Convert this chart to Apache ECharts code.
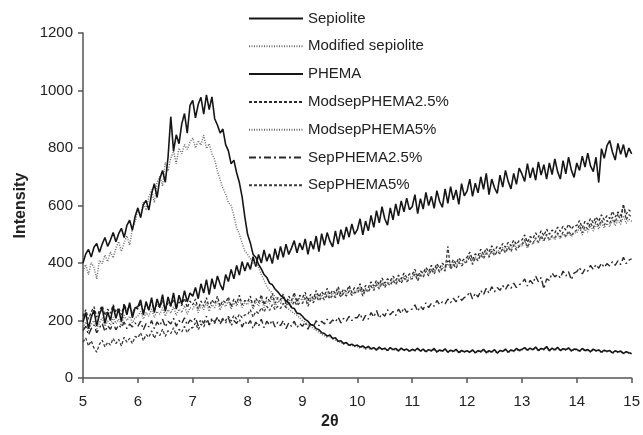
<!DOCTYPE html>
<html>
<head>
<meta charset="utf-8">
<script src="https://cdn.jsdelivr.net/npm/echarts@6/dist/echarts.min.js"></script>
<style>
html,body{margin:0;padding:0;background:#fff;}
#chart{width:643px;height:435px;}
</style>
</head>
<body>
<div id="chart"></div>
<script>
// sampling grid of the diffractograms (2θ from 5 to 15, step 0.05)
const thetaStart = 5;
const thetaStep = 0.05;

const seriesNames = ["Sepiolite", "Modified sepiolite", "PHEMA", "ModsepPHEMA2.5%", "ModsepPHEMA5%", "SepPHEMA2.5%", "SepPHEMA5%"];
const xTicks = [5, 6, 7, 8, 9, 10, 11, 12, 13, 14, 15];
const yTicks = [0, 200, 400, 600, 800, 1000, 1200];

const sepiolite = [
400,432,447,421,455,468,438,466,489,458,480,506,474,502,521,489,531,549,514,562,
592,558,603,618,584,641,676,628,693,722,681,768,909,790,846,815,884,920,852,948,
966,905,952,976,918,985,934,978,902,880,852,866,812,790,745,758,714,680,630,560,
500,470,430,420,395,380,360,350,330,325,310,300,288,280,268,262,245,242,226,224,
215,204,198,186,184,172,168,158,155,146,150,138,140,128,130,120,124,114,118,112,
115,108,112,104,110,102,106,98,108,100,104,96,106,99,103,95,104,97,101,94,
100,96,104,94,101,92,99,95,103,91,98,94,102,90,97,93,100,89,96,92,
95,90,98,88,96,92,100,89,95,91,99,87,96,93,101,90,98,94,103,96,
100,106,97,104,99,108,96,103,100,110,95,104,98,107,96,102,99,105,95,101,
100,94,103,96,99,92,101,95,98,90,97,93,96,88,95,91,94,86,92,88,
85];

const modifiedSepiolite = [
372,395,360,402,385,345,410,398,428,405,440,418,452,475,440,470,495,462,520,540,
590,560,612,584,630,655,610,680,702,668,750,720,765,790,745,800,780,812,795,820,
835,800,826,810,845,798,815,780,760,720,690,660,640,610,600,565,522,500,470,442,
430,415,400,398,385,360,340,318,305,296,283,275,262,255,246,240,232,225,218,210,
200,194,186,180,172,165,160,152,148,142,145,136,132,125,126,118,120,112,115,110,
110,104,108,100,106,98,103,96,105,99,101,94,104,97,100,93,102,95,99,92,
98,94,101,92,99,90,97,93,100,89,96,92,99,88,95,91,98,87,94,90,
93,89,97,86,94,90,98,87,93,89,97,86,94,91,99,88,96,92,100,94,
98,104,95,102,97,106,94,101,98,108,93,102,96,105,94,100,97,103,93,99,
98,92,101,94,97,90,99,93,96,88,95,91,94,86,93,89,92,84,90,86,
88];

const phema = [
195,228,172,212,236,182,222,245,190,230,200,250,208,240,196,256,220,262,210,245,
248,272,220,266,236,280,228,275,246,290,232,282,250,296,240,288,258,304,265,296,
285,315,276,328,296,342,290,346,310,355,326,306,360,336,378,345,392,358,405,372,
402,378,422,388,430,400,446,406,432,398,450,412,458,420,466,430,452,478,436,470,
446,484,430,476,448,494,440,502,462,506,476,456,512,466,516,482,526,490,536,500,
516,554,498,546,512,566,524,582,540,596,554,532,592,550,606,564,616,578,626,586,
596,638,572,624,588,646,600,632,590,652,614,594,658,608,666,620,654,604,676,634,
650,692,632,678,644,700,656,712,638,692,662,642,706,664,722,684,658,712,674,730,
710,684,746,696,732,688,752,706,742,692,748,708,762,718,692,756,710,768,724,698,
748,722,772,734,782,738,718,768,680,798,764,808,826,786,758,816,778,812,768,800,
780];

const modsepPhema25 = [
215,238,205,230,248,212,235,252,218,240,225,255,228,245,220,258,235,250,226,245,
240,262,228,255,240,268,235,258,245,270,238,262,250,275,242,265,252,278,245,268,
255,275,240,268,250,280,245,272,258,285,250,270,262,282,248,275,260,288,255,270,
265,285,250,278,262,290,255,282,268,295,260,280,272,292,258,285,270,298,265,288,
280,298,268,292,275,305,282,300,288,312,290,305,295,318,292,310,300,322,298,315,
310,328,300,322,315,335,320,340,325,348,330,345,338,355,340,358,345,365,350,362,
360,378,352,372,365,385,370,392,375,398,382,400,388,408,392,412,398,418,405,415,
420,438,412,432,425,448,430,452,438,460,442,458,450,468,455,472,460,480,465,478,
480,498,472,492,485,505,490,512,495,518,500,515,505,525,510,528,515,535,518,530,
530,548,522,545,535,555,540,560,545,568,550,565,555,580,560,578,565,600,570,585,
575];

const modsepPhema5 = [
175,195,165,188,200,172,192,210,180,198,185,212,190,205,182,218,200,215,192,210,
215,232,205,228,215,240,210,232,222,245,215,238,225,248,218,240,228,252,222,245,
240,258,228,252,238,262,232,255,245,268,236,260,248,270,240,262,250,275,245,262,
255,272,240,265,250,278,245,270,258,282,248,268,260,285,250,275,262,288,255,278,
270,288,258,282,265,295,272,290,278,300,280,295,285,308,282,300,290,312,288,305,
300,318,290,312,302,325,310,330,315,338,320,335,328,345,330,348,335,355,340,352,
350,368,342,362,355,375,360,382,365,388,372,390,378,398,382,402,388,408,395,405,
410,428,400,422,412,435,418,440,425,448,430,445,438,455,442,460,448,468,452,465,
460,478,452,472,465,485,470,490,475,495,478,492,482,500,485,502,490,508,492,505,
505,522,498,518,508,530,512,535,518,540,522,538,526,550,530,548,535,565,538,552,
545];

const sepPhema25 = [
165,180,150,172,185,158,175,190,162,182,170,192,168,185,175,195,172,188,178,192,
180,198,168,190,178,200,172,195,182,205,178,198,188,208,180,200,190,210,185,202,
195,210,182,205,190,215,185,208,195,212,188,205,192,210,182,200,190,205,178,198,
185,200,172,195,180,205,175,198,185,202,178,195,182,200,172,192,180,198,175,190,
180,195,170,192,178,200,182,198,188,205,190,202,195,212,192,208,198,215,200,210,
210,225,200,218,205,228,212,235,208,225,215,238,220,232,218,240,225,245,228,238,
240,255,232,250,238,262,245,260,250,270,255,265,258,275,262,278,265,285,270,280,
285,300,275,295,282,305,290,312,295,318,300,315,305,322,308,325,312,330,315,325,
330,345,320,340,328,355,335,350,310,345,340,365,352,360,348,372,355,370,342,365,
370,385,362,380,372,392,378,395,382,400,385,398,390,405,392,408,395,420,398,410,
415];

const sepPhema5 = [
125,140,112,130,105,90,118,132,108,125,115,138,120,135,112,142,125,138,120,145,
140,158,130,152,142,165,138,160,148,170,145,165,155,175,150,170,160,180,158,175,
175,192,168,188,178,198,185,202,190,210,195,208,200,215,198,218,205,222,210,220,
220,238,212,232,225,245,230,250,235,255,238,250,242,260,245,262,248,268,252,262,
260,278,250,272,262,285,268,282,272,290,275,288,280,298,282,295,285,302,288,298,
295,312,285,308,298,320,305,325,310,332,315,330,322,340,325,342,330,348,335,345,
345,362,338,358,350,372,355,378,362,385,368,382,372,458,378,395,382,402,390,400,
405,422,395,418,408,430,415,435,420,442,425,440,432,450,435,455,440,462,445,458,
465,482,455,478,468,488,472,495,478,500,482,495,488,505,490,508,492,512,495,508,
515,532,505,528,518,540,522,545,528,550,532,548,538,560,540,572,545,605,550,568,
560];

const allValues = [sepiolite, modifiedSepiolite, phema, modsepPhema25, modsepPhema5, sepPhema25, sepPhema5];

const styles = [
  {color:'#161616', width:1.6, type:'solid'},
  {color:'#6e6e6e', width:1.5, type:[1,1.5]},
  {color:'#161616', width:1.6, type:'solid'},
  {color:'#2a2a2a', width:1.3, type:[3,2]},
  {color:'#666666', width:1.4, type:[1,1.5]},
  {color:'#2a2a2a', width:1.4, type:[7,3,2,3]},
  {color:'#3a3a3a', width:1.3, type:[3,2]}
];

function toPairs(vals){
  return vals.map((v,i)=>[+(thetaStart + i*thetaStep).toFixed(2), v]);
}

const series = seriesNames.map((name, k) => ({
  name: name,
  type: 'line',
  symbol: 'none',
  silent: true,
  data: toPairs(allValues[k]),
  lineStyle: {color: styles[k].color, width: styles[k].width, type: styles[k].type},
  itemStyle: {color: styles[k].color},
  z: 10 - k
}));

const font = 'Liberation Sans, Arial, sans-serif';
const chart = echarts.init(document.getElementById('chart'), null, {renderer:'canvas'});
chart.setOption({
  animation: false,
  backgroundColor: '#ffffff',
  grid: {left: 83, right: 10, top: 33, bottom: 52, containLabel: false},
  legend: {
    orient: 'vertical',
    left: 248,
    top: 11,
    padding: 0,
    itemWidth: 54,
    itemHeight: 14,
    itemGap: 12.8,
    selectedMode: false,
    data: seriesNames,
    itemStyle: {opacity: 0},
    textStyle: {fontFamily: font, fontSize: 15, color: '#222'}
  },
  xAxis: {
    type: 'value',
    min: xTicks[0],
    max: xTicks[xTicks.length-1],
    interval: 1,
    name: '2θ',
    nameLocation: 'middle',
    nameGap: 29,
    nameTextStyle: {fontFamily: font, fontSize: 16, fontWeight: 'bold', color: '#222', padding: [0, 55, 0, 0]},
    axisLine: {show: true, lineStyle: {color: '#555', width: 1.5}},
    axisTick: {show: true, length: 5, lineStyle: {color: '#555', width: 1.5}},
    axisLabel: {margin: 16, fontFamily: font, fontSize: 15, color: '#222', formatter: v => String(v)},
    splitLine: {show: false}
  },
  yAxis: {
    type: 'value',
    min: yTicks[0],
    max: yTicks[yTicks.length-1],
    interval: 200,
    name: 'Intensity',
    nameLocation: 'middle',
    nameGap: 50,
    nameTextStyle: {fontFamily: font, fontSize: 16, fontWeight: 'bold', color: '#222'},
    axisLine: {show: true, lineStyle: {color: '#555', width: 1.5}},
    axisTick: {show: true, length: 5, lineStyle: {color: '#555', width: 1.5}},
    axisLabel: {margin: 10, fontFamily: font, fontSize: 15, color: '#222', formatter: v => String(v)},
    splitLine: {show: false}
  },
  series: series
});
</script>
</body>
</html>
